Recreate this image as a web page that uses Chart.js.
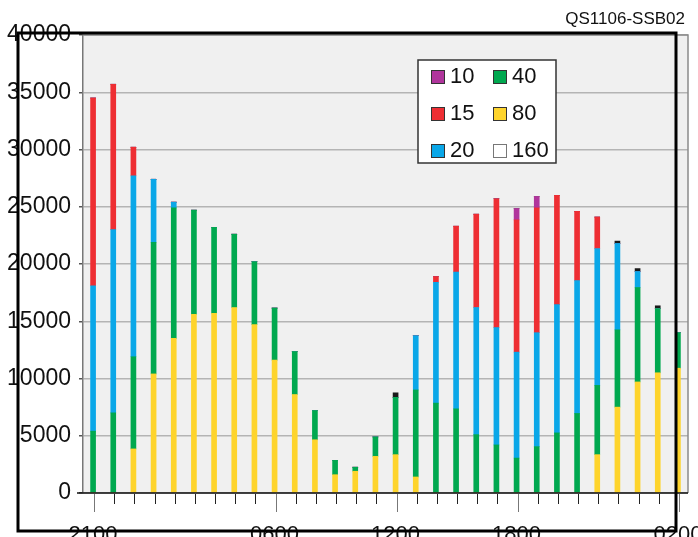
<!DOCTYPE html>
<html>
<head>
<meta charset="utf-8">
<script src="https://cdn.jsdelivr.net/npm/chart.js@4/dist/chart.umd.min.js"></script>
<style>
  html, body { margin: 0; padding: 0; background: #ffffff; }
  #wrap { width: 698px; height: 537px; position: relative; }
</style>
</head>
<body>
<div id="wrap"><canvas id="c" width="698" height="537"></canvas></div>
<script>
// ---- data ----
const chartTitle = 'QS1106-SSB02';
const hours = ['2100','2200','2300','0000','0100','0200','0300','0400','0500','0600',
               '0700','0800','0900','1000','1100','1200','1300','1400','1500','1600',
               '1700','1800','1900','2000','2100','2200','2300','0000','0100','0200'];
const xTickLabels = ['2100','','','','','','','','','0600',
                     '','','','','','1200','','','','',
                     '','1800','','','','','','','','0200'];
const seriesNames = ['10','15','20','40','80','160'];
const s80  = [0,0,3850,10400,13500,15600,15700,16200,14700,11600,
              8600,4650,1600,1900,3200,3350,1400,0,0,0,
              0,0,0,0,0,3350,7500,9700,10500,10900];
const s40  = [5400,7000,8050,11500,11400,9100,7500,6400,5500,4550,
              3750,2550,1250,350,1700,5000,7600,7850,7350,5100,
              4200,3050,4050,5250,6950,6050,6750,8250,5600,3100];
const s20  = [12700,16000,15800,5500,500,0,0,0,0,0,
              0,0,0,0,0,0,4750,10550,11950,11100,
              10250,9250,9950,11200,11600,11950,7550,1400,0,0];
const s15  = [16400,12700,2500,0,0,0,0,0,0,0,
              0,0,0,0,0,0,0,500,4000,8150,
              11250,11550,10900,9550,6050,2750,0,0,0,0];
const s10  = [0,0,0,0,0,0,0,0,0,0,
              0,0,0,0,0,0,0,0,0,0,
              0,1000,1000,0,0,0,0,0,0,0];
const s160 = [0,0,0,0,0,0,0,0,0,0,
              0,0,0,0,0,400,0,0,0,0,
              0,0,0,0,0,0,200,250,250,0];

// ---- styles ----
const colors = {'10':'#b0359c','15':'#ee2e33','20':'#0aa7e8','40':'#00a84f','80':'#fed42c','160':'#1a1a1a'};
const FONT = '"Liberation Sans", Arial, sans-serif';

function ds(label, data) {
  return { label, data, backgroundColor: colors[label], borderWidth: 0, barThickness: 5, stack: 's' };
}

const framePlugin = {
  id: 'framePlugin',
  beforeDraw(chart) {
    const { ctx, chartArea: a } = chart;
    ctx.save();
    ctx.fillStyle = '#f0f0f0';
    ctx.fillRect(a.left, a.top, a.right - a.left, a.bottom - a.top);
    ctx.restore();
  },
  afterDatasetsDraw(chart) {
    const { ctx, chartArea: a } = chart;
    const xs = chart.scales.x;
    ctx.save();
    ctx.strokeStyle = '#8a8a8a';
    ctx.lineWidth = 1.5;
    ctx.beginPath();
    ctx.moveTo(a.left, a.top); ctx.lineTo(a.right, a.top); ctx.lineTo(a.right, a.bottom);
    ctx.stroke();
    ctx.strokeStyle = '#111';
    ctx.lineWidth = 1.5;
    ctx.beginPath();
    ctx.moveTo(a.left - 6, a.bottom); ctx.lineTo(a.right, a.bottom);
    ctx.stroke();
    ctx.lineWidth = 1;
    hours.forEach((h, i) => {
      const x = Math.round(xs.getPixelForValue(i)) + 1.5;
      const major = xTickLabels[i] !== '';
      ctx.strokeStyle = major ? '#777' : '#222';
      ctx.beginPath();
      ctx.moveTo(x, a.bottom + 1);
      ctx.lineTo(x, a.bottom + (major ? 19 : 11));
      ctx.stroke();
    });
    ctx.restore();
  },
  afterDraw(chart) {
    const { ctx } = chart;
    ctx.save();
    ctx.fillStyle = '#111';
    ctx.font = '17px ' + FONT;
    ctx.textAlign = 'right';
    ctx.textBaseline = 'middle';
    ctx.fillText(chartTitle, 685, 19);
    const lx = 418, ly = 60, lw = 138, lh = 103;
    ctx.fillStyle = '#ffffff';
    ctx.fillRect(lx, ly, lw, lh);
    ctx.strokeStyle = '#333';
    ctx.lineWidth = 1.5;
    ctx.strokeRect(lx, ly, lw, lh);
    ctx.font = '22px ' + FONT;
    ctx.textAlign = 'left';
    ctx.textBaseline = 'middle';
    seriesNames.forEach((name, k) => {
      const col = Math.floor(k / 3), row = k % 3;
      const sx = 431 + col * 62, cy = 77 + row * 37;
      const d = chart.data.datasets.find(v => v.label === name);
      ctx.fillStyle = name === '160' ? '#ffffff' : d.backgroundColor;
      ctx.fillRect(sx, cy - 7, 14, 14);
      ctx.strokeStyle = name === '160' ? '#777' : '#333';
      ctx.lineWidth = 1;
      ctx.strokeRect(sx + 0.5, cy - 6.5, 13, 13);
      ctx.fillStyle = '#111';
      ctx.fillText(d.label, sx + 19, cy);
    });
    ctx.strokeStyle = '#000';
    ctx.lineWidth = 3;
    ctx.strokeRect(18, 33, 658, 498);
    ctx.restore();
  }
};

new Chart(document.getElementById('c'), {
  type: 'bar',
  data: {
    labels: hours,
    datasets: [ds('80', s80), ds('40', s40), ds('20', s20), ds('15', s15), ds('10', s10), ds('160', s160)]
  },
  options: {
    responsive: false,
    animation: false,
    layout: { padding: { top: 35, right: 10, left: 0, bottom: 0 } },
    plugins: { legend: { display: false }, tooltip: { enabled: false } },
    scales: {
      x: {
        stacked: true,
        offset: true,
        grid: { display: false, drawTicks: false },
        border: { display: false },
        ticks: {
          autoSkip: false, maxRotation: 0, minRotation: 0, padding: 29,
          color: '#111', font: { family: FONT, size: 22 },
          callback: (v, i) => xTickLabels[i]
        },
        afterFit: s => { s.height = 44; s.paddingLeft = 0; s.paddingRight = 0; }
      },
      y: {
        stacked: true,
        min: 0, max: 40000,
        grid: { color: '#b4b4b4', lineWidth: 1.5, tickLength: 4, tickColor: '#555' },
        border: { color: '#777', width: 1.5 },
        ticks: { stepSize: 5000, padding: 8, color: '#111', font: { family: FONT, size: 23 },
                 callback: v => String(v) },
        afterFit: s => { s.width = 83; s.paddingTop = 0; s.paddingBottom = 0; }
      }
    }
  },
  plugins: [framePlugin]
});
</script>
</body>
</html>
